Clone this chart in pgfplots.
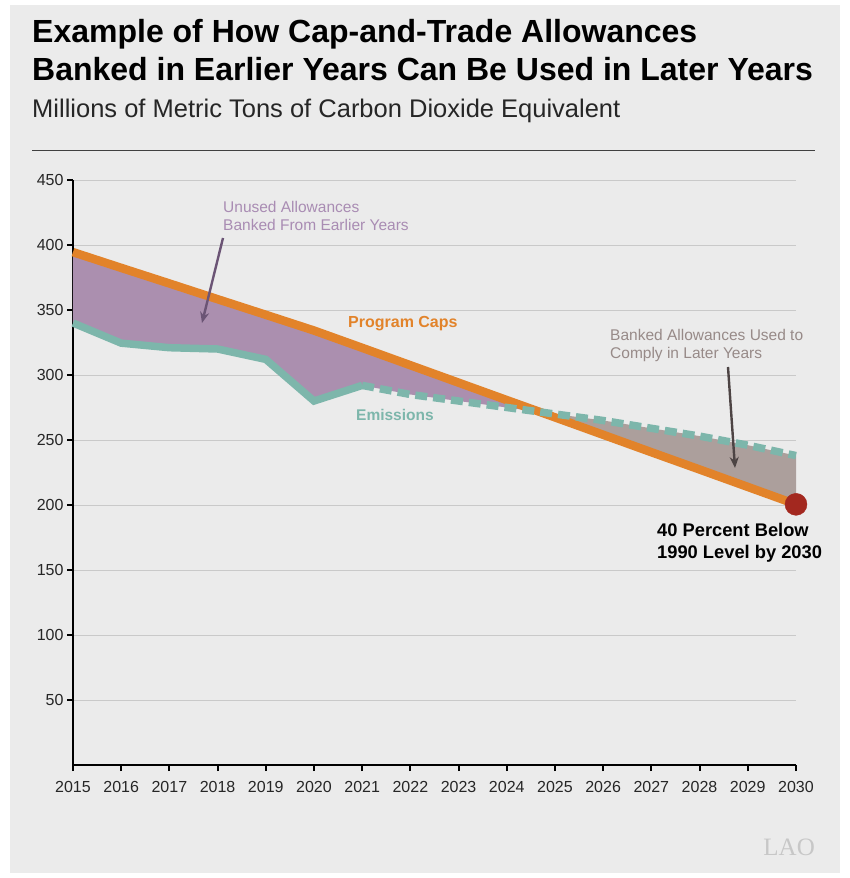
\documentclass[border=0pt]{standalone}
\usepackage{pgfplots}
\pgfplotsset{compat=1.18}
\usetikzlibrary{arrows.meta}
\usepackage{fontspec}
\setmainfont{Liberation Sans}
\newfontfamily\seriffont{Liberation Serif}

\definecolor{panel}{HTML}{EBEBEB}
\definecolor{capor}{HTML}{E2832A}
\definecolor{emteal}{HTML}{7DB6AB}
\definecolor{bankpurp}{HTML}{AB8FAF}
\definecolor{usedgray}{HTML}{AC9F9C}
\definecolor{purptext}{HTML}{A98CB3}
\definecolor{graytext}{HTML}{978A88}
\definecolor{arrowpurp}{HTML}{6B5475}
\definecolor{arrowgray}{HTML}{4D4444}
\definecolor{dotred}{HTML}{A3281F}
\definecolor{gridgray}{HTML}{C9C9C9}

\begin{document}
\begin{tikzpicture}[x=1pt,y=1pt]
% page and panel
\fill[white] (0,0) rectangle (850,878);
\fill[panel] (10,5) rectangle (840,873);

\begin{axis}[
  at={(73pt,113pt)}, anchor=south west,
  scale only axis, width=723pt, height=585pt,
  xmin=2015, xmax=2030, ymin=0, ymax=450,
  axis lines=left,
  axis line style={-, line width=2.2pt, black},
  xtick={2015,...,2030},
  ytick={50,100,...,450},
  ymajorgrids,
  grid style={gridgray, line width=0.9pt},
  tick align=outside,
  major tick length=6pt,
  tick style={black, line width=2pt},
  ticklabel style={font=\fontsize{16}{18}\selectfont, text=black!85},
  xticklabel style={yshift=-7pt},
  /pgf/number format/1000 sep={},
  /pgf/number format/assume math mode=true,
  clip=false,
]
% banked allowances: caps above emissions, 2015 to crossing
\addplot[fill=bankpurp, draw=none] coordinates {
(2015,394.5) (2016,382.4) (2017,370.4) (2018,358.3) (2019,346.3) (2020,334.2)
(2021,320.9) (2022,307.5) (2023,294.1) (2024,280.7) (2024.69,271.5)
(2024,275) (2023,280) (2022,285) (2021,292) (2020,280) (2019,312)
(2018,320) (2017,321) (2016,324.5) (2015,340)
};
% banked allowances used: emissions above caps, crossing to 2030
\addplot[fill=usedgray, draw=none] coordinates {
(2024.69,271.5) (2025,270) (2026,265) (2027,259) (2028,253) (2029,246) (2030,238)
(2030,200.5) (2029,213.9) (2028,227.3) (2027,240.6) (2026,254.0) (2025,267.4)
};

% program caps
\addplot[capor, line width=8.5pt] coordinates {
(2015,394.5) (2016,382.4) (2017,370.4) (2018,358.3) (2019,346.3) (2020,334.2)
(2021,320.9) (2022,307.5) (2023,294.1) (2024,280.7) (2025,267.4) (2026,254.0)
(2027,240.6) (2028,227.3) (2029,213.9) (2030,200.5)
};
% emissions: actual, then projected
\addplot[emteal, line width=7.5pt] coordinates {
(2015,340) (2016,324.5) (2017,321) (2018,320) (2019,312) (2020,280) (2021,292)
};
\addplot[emteal, line width=7.5pt, dash pattern=on 12pt off 6pt] coordinates {
(2021,292) (2022,285) (2023,280) (2024,275) (2025,270) (2026,265)
(2027,259) (2028,253) (2029,246) (2030,238)
};
\addplot[only marks, mark=*, mark size=11pt, dotred] coordinates {(2030,200.5)};
\end{axis}

% titles
\node[anchor=base west, inner sep=0] at (32,835)
  {\bfseries\fontsize{32}{36}\selectfont Example of How Cap-and-Trade Allowances};
\node[anchor=base west, inner sep=0] at (32,797)
  {\bfseries\fontsize{32}{36}\selectfont Banked in Earlier Years Can Be Used in Later Years};
\node[anchor=base west, inner sep=0, text=black!85] at (32,760)
  {\fontsize{25.5}{28}\selectfont Millions of Metric Tons of Carbon Dioxide Equivalent};
\draw[black!75, line width=1pt] (32,727) -- (815,727);

% annotations
\node[anchor=base west, inner sep=0, text=purptext] at (223,665)
  {\fontsize{15.5}{18}\selectfont Unused Allowances};
\node[anchor=base west, inner sep=0, text=purptext] at (223,647)
  {\fontsize{15.5}{18}\selectfont Banked From Earlier Years};
\draw[arrowpurp, line width=2.4pt, -{Stealth[length=11pt, width=9pt]}] (223,640) -- (202,555);

\node[anchor=base west, inner sep=0, text=capor] at (348,550)
  {\bfseries\fontsize{16}{18}\selectfont Program Caps};
\node[anchor=base west, inner sep=0, text=emteal] at (356,457)
  {\bfseries\fontsize{15.5}{18}\selectfont Emissions};

\node[anchor=base west, inner sep=0, text=graytext] at (610,537)
  {\fontsize{15.5}{18}\selectfont Banked Allowances Used to};
\node[anchor=base west, inner sep=0, text=graytext] at (610,519)
  {\fontsize{15.5}{18}\selectfont Comply in Later Years};
\draw[arrowgray, line width=2.4pt, -{Stealth[length=11pt, width=9pt]}] (728,511) -- (735,410);

\node[anchor=base west, inner sep=0] at (657,341)
  {\bfseries\fontsize{18.3}{20}\selectfont 40 Percent Below};
\node[anchor=base west, inner sep=0] at (657,319)
  {\bfseries\fontsize{18.3}{20}\selectfont 1990 Level by 2030};

% logo
\node[anchor=base east, inner sep=0, text=black!22] at (815,22)
  {\seriffont\fontsize{25}{28}\selectfont LAO};
\end{tikzpicture}
\end{document}
